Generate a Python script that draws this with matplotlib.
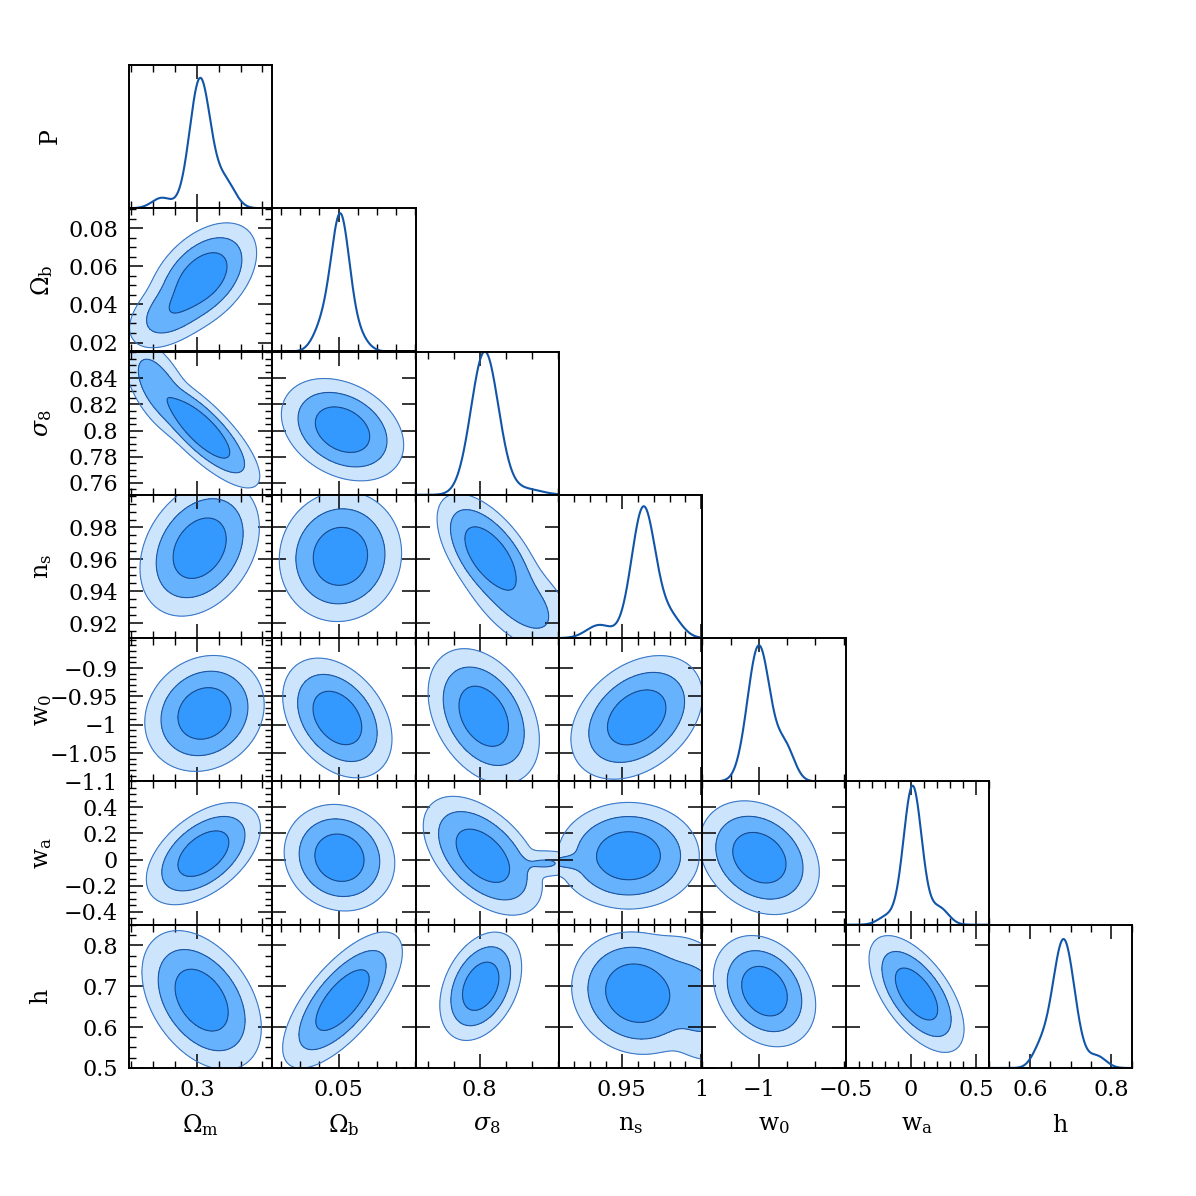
import numpy as np
import matplotlib.pyplot as plt
from matplotlib.ticker import MultipleLocator, FixedLocator, NullLocator, FuncFormatter

plt.rcParams['font.family'] = 'DejaVu Serif'
plt.rcParams['mathtext.fontset'] = 'dejavuserif'

# Parameter names, axis ranges and tick spacing
labels = [r'$\Omega_{\rm m}$', r'$\Omega_{\rm b}$', r'$\sigma_8$', r'$\rm n_s$',
          r'$\rm w_0$', r'$\rm w_a$', r'$\rm h$']
lims = [(0.238, 0.369), (0.0153, 0.0904), (0.7508, 0.8606), (0.9106, 1.0005),
        (-1.1, -0.847), (-0.5005, 0.6), (0.4995, 0.851)]
x_major = [0.1, 0.05, 0.1, 0.05, 0.5, 0.5, 0.2]
x_minor = [0.02, 0.01, 0.02, 0.01, 0.05, 0.1, 0.05]
y_major = [None, 0.02, 0.02, 0.02, 0.05, 0.2, 0.1]
y_minor = [None, 0.005, 0.005, 0.005, 0.01, 0.05, 0.025]

# 1D marginals: (amplitude, mean, sigma) pieces
om_1d = [(1.0, 0.303, 0.0095), (0.2, 0.326, 0.009), (0.08, 0.268, 0.009)]
ob_1d = [(1.0, 0.051, 0.0047), (0.2, 0.042, 0.005), (0.12, 0.060, 0.005)]
s8_1d = [(1.0, 0.8038, 0.0105), (0.04, 0.835, 0.012)]
ns_1d = [(1.0, 0.9637, 0.0075), (0.1, 0.936, 0.008), (0.15, 0.981, 0.007)]
w0_1d = [(1.0, -1.0, 0.02), (0.24, -0.953, 0.016)]
wa_1d = [(1.0, 0.015, 0.07), (0.06, -0.18, 0.07), (0.12, 0.22, 0.07)]
h_1d = [(1.0, 0.683, 0.027), (0.13, 0.625, 0.02), (0.09, 0.765, 0.022)]
marginals = [om_1d, ob_1d, s8_1d, ns_1d, w0_1d, wa_1d, h_1d]
peak_frac = [0.91, 0.965, 1.0, 0.92, 0.95, 0.97, 0.9]

# 2D posteriors per column, one entry per row below the diagonal:
# list of (weight, x centre, y centre, sigma x, sigma y, correlation)
om_pairs = [
    [(1, 0.305, 0.054, 0.0147, 0.0085, 0.45), (0.2, 0.28, 0.038, 0.014, 0.007, 0.5)],
    [(1, 0.304, 0.8007, 0.0156, 0.013, -0.8), (0.15, 0.265, 0.833, 0.011, 0.013, -0.6)],
    [(1, 0.3026, 0.967, 0.016, 0.0125, 0.3)],
    [(1, 0.307, -0.980, 0.016, 0.030, 0.15)],
    [(1, 0.306, 0.045, 0.0153, 0.115, 0.5)],
    [(1, 0.3044, 0.666, 0.016, 0.05, -0.4)],
]
ob_pairs = [
    [(1, 0.0521, 0.8007, 0.0094, 0.0115, -0.3)],
    [(1, 0.051, 0.9619, 0.0094, 0.012, 0.05)],
    [(1, 0.0494, -0.988, 0.0084, 0.031, -0.35)],
    [(1, 0.0505, 0.014, 0.0085, 0.12, -0.1)],
    [(1, 0.0521, 0.666, 0.0092, 0.049, 0.7)],
]
s8_pairs = [
    [(1, 0.8076, 0.9619, 0.0116, 0.0113, -0.6), (0.15, 0.83, 0.935, 0.015, 0.012, -0.6)],
    [(1, 0.803, -0.985, 0.0125, 0.035, -0.35)],
    [(1, 0.8023, 0.029, 0.0133, 0.133, -0.5), (0.015, 0.85, -0.03, 0.012, 0.04, 0.0)],
    [(1, 0.8007, 0.700, 0.0092, 0.039, 0.35)],
]
ns_pairs = [
    [(1, 0.9594, -0.987, 0.0121, 0.032, 0.35)],
    [(1, 0.9543, 0.029, 0.013, 0.12, 0.0), (0.015, 0.915, -0.02, 0.01, 0.04, 0.0)],
    [(1, 0.9594, 0.683, 0.0117, 0.043, -0.1), (0.12, 0.995, 0.67, 0.012, 0.055, -0.3)],
]
w0_pairs = [
    [(1, -0.999, 0.014, 0.031, 0.128, -0.25)],
    [(1, -0.99, 0.688, 0.0265, 0.040, -0.25)],
]
wa_pairs = [
    [(1, 0.045, 0.681, 0.107, 0.042, -0.6)],
]
pairs = [om_pairs, ob_pairs, s8_pairs, ns_pairs, w0_pairs, wa_pairs]

c_outer, c_mid, c_inner = '#cce5fd', '#66b2fd', '#3399ff'
line_col = '#1155a8'


def density(X, Y, comps):
    Z = np.zeros_like(X)
    for w, cx, cy, sx, sy, r in comps:
        dx = (X - cx) / sx
        dy = (Y - cy) / sy
        q = (dx ** 2 - 2 * r * dx * dy + dy ** 2) / (1 - r ** 2)
        Z += w / (sx * sy * np.sqrt(1 - r ** 2)) * np.exp(-0.5 * q)
    return Z


def fmt(v, pos):
    return ('%g' % (round(v, 6) + 0.0)).replace('-', '\u2212')


def y_ticks(lo, hi, step):
    # labelled ticks, leaving out one sitting on the top edge
    k = np.arange(np.ceil(lo / step - 1e-6), np.floor(hi / step) + 1)
    vals = k * step
    return [v for v in vals if v < hi - 0.06 * (hi - lo)]


n = 7
L, B, W = 129 / 1196, 1 - 1068 / 1196, 143.3 / 1196
fig = plt.figure(figsize=(11.96, 11.96), dpi=100)

for row in range(n):
    for col in range(row + 1):
        ax = fig.add_axes([L + col * W, B + (n - 1 - row) * W, W, W])
        diag = row == col
        lo, hi = lims[col]
        if diag:
            x = np.linspace(lo, hi, 500)
            y = np.zeros_like(x)
            for a, m, s in marginals[col]:
                y += a * np.exp(-0.5 * ((x - m) / s) ** 2)
            ax.plot(x, y / y.max(), color=line_col, lw=1.5)
            ax.set_ylim(0, 1 / peak_frac[col])
            ax.set_yticks([])
        else:
            comps = pairs[col][row - col - 1]
            ylo, yhi = lims[row]
            sx, sy = hi - lo, yhi - ylo
            gx = np.linspace(lo - sx, hi + sx, 450)
            gy = np.linspace(ylo - sy, yhi + sy, 450)
            X, Y = np.meshgrid(gx, gy)
            Z = density(X, Y, comps)
            flat = np.sort(Z.ravel())[::-1]
            cum = np.cumsum(flat)
            cum /= cum[-1]
            lv = [flat[np.searchsorted(cum, p)] for p in (0.997, 0.954, 0.683)]
            ax.contourf(X, Y, Z, levels=lv + [Z.max() * 1.01],
                        colors=[c_outer, c_mid, c_inner])
            ax.contour(X, Y, Z, levels=lv, colors=['#3a78c8', '#1f55a0', '#1a4a8a'],
                       linewidths=0.8)
            ax.set_ylim(ylo, yhi)
            ax.yaxis.set_major_locator(FixedLocator(y_ticks(ylo, yhi, y_major[row])))
            if col == 0:
                ax.yaxis.set_minor_locator(MultipleLocator(y_minor[row]))
            else:
                ax.yaxis.set_minor_locator(NullLocator())
            ax.yaxis.set_major_formatter(FuncFormatter(fmt))
        ax.set_xlim(lo, hi)
        ax.xaxis.set_major_locator(MultipleLocator(x_major[col]))
        ax.xaxis.set_minor_locator(MultipleLocator(x_minor[col]))
        ax.xaxis.set_major_formatter(FuncFormatter(fmt))
        ax.tick_params(which='both', direction='in', top=True, bottom=True,
                       left=not diag, right=not diag, labelsize=16, pad=8)
        ax.tick_params(which='major', length=10, width=1.1)
        ax.tick_params(which='minor', length=5, width=1.0)
        ax.tick_params(labelbottom=(row == n - 1), labelleft=(col == 0 and not diag))
        for sp in ax.spines.values():
            sp.set_linewidth(1.4)

# axis titles
for k in range(n):
    fig.text(L + (k + 0.5) * W, 1 - 1125 / 1196, labels[k], fontsize=17,
             ha='center', va='center')
for k in range(1, n):
    fig.text(42 / 1196, B + (n - 1 - k + 0.5) * W, labels[k], fontsize=17,
             ha='center', va='center', rotation=90)
fig.text(50 / 1196, B + (n - 0.5) * W, 'P', fontsize=17, ha='center',
         va='center', rotation=90)

fig.savefig('out.png', dpi=100)
